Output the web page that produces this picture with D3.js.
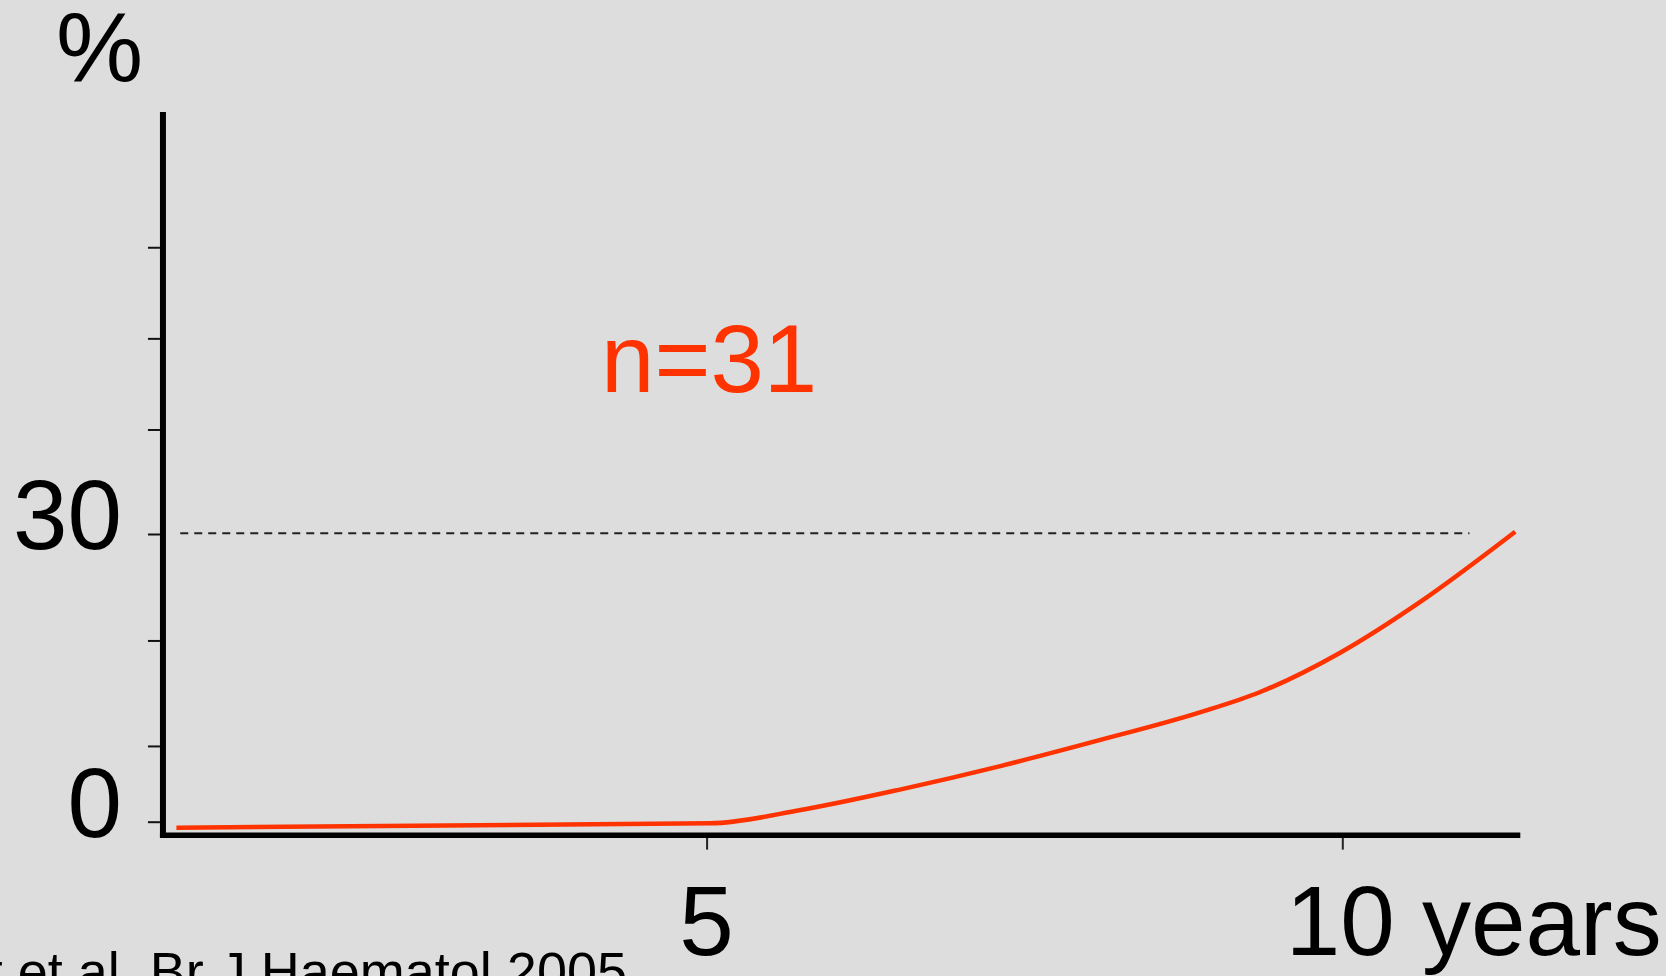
<!DOCTYPE html>
<html>
<head>
<meta charset="utf-8">
<script src="https://cdn.jsdelivr.net/npm/d3@7"></script>
<style>
  html, body { margin: 0; padding: 0; background: #dddddd; overflow: hidden; }
  svg { display: block; }
  text { font-family: "Liberation Sans", Arial, Helvetica, sans-serif; }
</style>
</head>
<body>
<svg id="chart" width="1666" height="976"></svg>
<script>
// Cumulative incidence over time (years), n = 31
const years = [0.83, 5.03, 5.74, 6.52, 7.31, 8.09, 8.88, 9.35, 9.98, 10.61, 11.36];
const incidence = [-0.63, -0.17, 1.22, 3.35, 5.8, 8.5, 11.4, 13.5, 17.6, 22.9, 30.24];

// Axis ticks and labels
const yTickValues = [0, 7.9, 18.9, 30, 40.9, 50.4, 59.9];
const yTickLabels = [{ v: 0, t: "0" }, { v: 30, t: "30" }];
const xTickValues = [5, 10];
const xTickLabels = [{ v: 5, t: "5", unit: "" }, { v: 10, t: "10", unit: " years" }];

// Axis extents and the 30% reference line
const xAxisExtent = [0.724, 11.4];
const yAxisExtent = [-1.4, 74];
const refLevel = 30;
const refSpan = [0.86, 11.0];

const yUnit = "%";
const sampleLabel = "n=31";
const citation = "t et al. Br J Haematol 2005";

const RED = "#ff3300";
const FONT = 98;

const svg = d3.select("#chart");

const x = d3.scaleLinear().domain([5, 10]).range([706.6, 1342.3]);
const y = d3.scaleLinear().domain([0, 30]).range([821.7, 534]);

const axisX = x(xAxisExtent[0]);   // centre of vertical axis line
const axisY = y(yAxisExtent[0]);   // centre of horizontal axis line

// Dashed reference line at 30%
svg.append("line")
  .attr("x1", x(refSpan[0])).attr("x2", x(refSpan[1]))
  .attr("y1", y(refLevel) - 0.7).attr("y2", y(refLevel) - 0.7)
  .attr("stroke", "#222").attr("stroke-width", 2)
  .attr("stroke-dasharray", "8 6");

// Y ticks
const yAxis = svg.append("g")
  .attr("transform", `translate(${axisX - 3},0)`)
  .call(d3.axisLeft(y).tickValues(yTickValues).tickSize(12).tickSizeOuter(0).tickFormat(""));
yAxis.select(".domain").remove();
yAxis.selectAll(".tick line").attr("stroke", "#111").attr("stroke-width", 2);

// X ticks
const xAxis = svg.append("g")
  .attr("transform", `translate(0,${axisY + 2.5})`)
  .call(d3.axisBottom(x).tickValues(xTickValues).tickSize(12).tickSizeOuter(0).tickFormat(""));
xAxis.select(".domain").remove();
xAxis.selectAll(".tick line").attr("stroke", "#222").attr("stroke-width", 2);

// Heavy axis lines
svg.append("line")
  .attr("x1", axisX).attr("x2", axisX)
  .attr("y1", y(yAxisExtent[1])).attr("y2", axisY + 2.5)
  .attr("stroke", "#000").attr("stroke-width", 6);
svg.append("line")
  .attr("x1", axisX - 3).attr("x2", x(xAxisExtent[1]))
  .attr("y1", axisY).attr("y2", axisY)
  .attr("stroke", "#000").attr("stroke-width", 5.5);

// Y labels
svg.selectAll(".ylab").data(yTickLabels).join("text")
  .attr("class", "ylab")
  .attr("x", 122)
  .attr("y", d => y(d.v) + 15)
  .attr("text-anchor", "end")
  .attr("font-size", FONT)
  .attr("fill", "#000")
  .text(d => d.t);

// X labels (number centred on its tick, unit trailing)
svg.selectAll(".xlab").data(xTickLabels).join("text")
  .attr("class", "xlab")
  .attr("font-size", FONT)
  .attr("fill", "#000")
  .attr("y", 955)
  .each(function (d) {
    const t = d3.select(this);
    t.append("tspan").text(d.t);
    const w = this.getComputedTextLength();
    if (d.unit) t.append("tspan").text(d.unit);
    t.attr("x", x(d.v) - w / 2 + (d.t.length > 1 ? -2 : 0));
  });

// Unit label
svg.append("text")
  .attr("x", 56).attr("y", 81)
  .attr("font-size", FONT)
  .attr("fill", "#000")
  .text(yUnit);

// Sample size
svg.append("text")
  .attr("x", 601).attr("y", 392)
  .attr("font-size", 96)
  .attr("fill", RED)
  .text(sampleLabel);

// Citation
svg.append("text")
  .attr("x", 627).attr("y", 990)
  .attr("text-anchor", "end")
  .attr("font-size", 54)
  .attr("fill", "#000")
  .text(citation);

// Incidence curve
const pts = years.map((yr, i) => [yr, incidence[i]]);
svg.append("path")
  .datum(pts)
  .attr("fill", "none")
  .attr("stroke", RED)
  .attr("stroke-width", 4.5)
  .attr("stroke-linejoin", "round")
  .attr("d", d3.line().x(d => x(d[0])).y(d => y(d[1])).curve(d3.curveMonotoneX));
</script>
</body>
</html>
